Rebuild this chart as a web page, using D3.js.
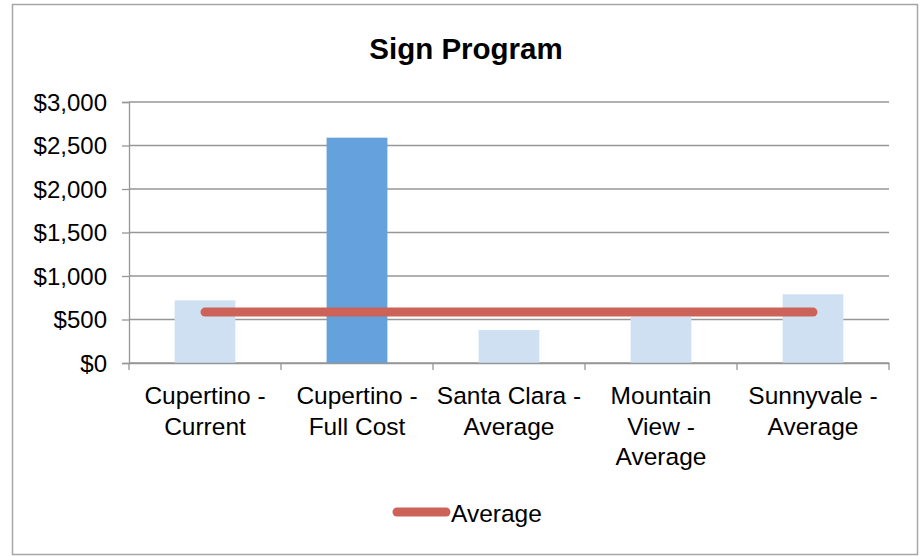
<!DOCTYPE html>
<html><head><meta charset="utf-8">
<script src="https://cdn.jsdelivr.net/npm/d3@7"></script>
<style>body{margin:0;background:#fff}svg{display:block}text{font-family:"Liberation Sans",Arial,sans-serif;fill:#000}</style>
</head><body>
<script>
const categories = [["Cupertino -","Current"],["Cupertino -","Full Cost"],["Santa Clara -","Average"],["Mountain","View -","Average"],["Sunnyvale -","Average"]];
const values = [720, 2590, 380, 530, 790];
const highlight = [false, true, false, false, false];
const averageValue = 585;
const yTicks = [0, 500, 1000, 1500, 2000, 2500, 3000];
const title = "Sign Program";
const legendLabel = "Average";

const W = 920, H = 556;
const svg = d3.select("body").append("svg").attr("width", W).attr("height", H);
svg.append("rect").attr("x", 12.5).attr("y", 4.5).attr("width", 905).attr("height", 550)
  .attr("fill", "#fff").attr("stroke", "#A6A6A6").attr("stroke-width", 1.5);

const pL = 129, pR = 889, pT = 102, pB = 363;
const idx = categories.map((d, i) => i);
const x = d3.scaleBand().domain(idx).range([pL, pR]).padding(0);
const y = d3.scaleLinear().domain([0, 3000]).range([pB, pT]);

// gridlines
svg.append("g").selectAll("line").data(yTicks).join("line")
  .attr("x1", pL).attr("x2", pR)
  .attr("y1", d => y(d)).attr("y2", d => y(d))
  .attr("stroke", "#969696").attr("stroke-width", 1.3);

// y axis
const yAxis = svg.append("g").attr("transform", `translate(${pL},0)`)
  .call(d3.axisLeft(y).tickValues(yTicks).tickSize(7).tickPadding(15).tickFormat(d => "$" + d3.format(",")(d)));
yAxis.select(".domain").attr("stroke", "#969696").attr("stroke-width", 1.3);
yAxis.selectAll(".tick line").attr("stroke", "#969696").attr("stroke-width", 1.3);
yAxis.selectAll("text").attr("font-size", 24).attr("dy", "0.35em").style("font-family", '"Liberation Sans",Arial,sans-serif').attr("fill", "#000");

// bars
const bw = x.step() / 2.5;
svg.append("g").selectAll("rect").data(values).join("rect")
  .attr("x", (d, i) => x(i) + x.step() / 2 - bw / 2)
  .attr("width", bw)
  .attr("y", d => y(d))
  .attr("height", d => y(0) - y(d))
  .attr("fill", (d, i) => highlight[i] ? "#65A1DD" : "#CFE0F2");

// x axis
const xAxis = svg.append("g").attr("transform", `translate(0,${pB})`)
  .call(d3.axisBottom(x).tickSize(0).tickFormat(""));
xAxis.select(".domain").attr("stroke", "#969696").attr("stroke-width", 1.3);
const bounds = d3.range(categories.length + 1).map(i => pL + i * x.step());
svg.append("g").selectAll("line").data(bounds).join("line")
  .attr("x1", d => d).attr("x2", d => d).attr("y1", pB).attr("y2", pB + 7)
  .attr("stroke", "#969696").attr("stroke-width", 1.3);

const lbl = svg.append("g").selectAll("text").data(categories).join("text")
  .attr("x", (d, i) => x(i) + x.step() / 2)
  .attr("y", 404).attr("text-anchor", "middle").attr("font-size", 24.5);
lbl.selectAll("tspan").data(d => d).join("tspan")
  .attr("x", function() { return d3.select(this.parentNode).attr("x"); })
  .attr("dy", (d, i) => i === 0 ? 0 : 30.5).text(d => d);

// average line
const c0 = x(0) + x.step() / 2, c1 = x(categories.length - 1) + x.step() / 2;
svg.append("path")
  .attr("d", d3.line()([[c0, y(averageValue)], [c1, y(averageValue)]]))
  .attr("stroke", "#CD6259").attr("stroke-width", 9).attr("stroke-linecap", "round").attr("fill", "none");

// title
svg.append("text").attr("x", 466).attr("y", 59).attr("text-anchor", "middle")
  .attr("font-size", 29.5).attr("font-weight", "bold").text(title);

// legend
svg.append("line").attr("x1", 397).attr("x2", 446).attr("y1", 512).attr("y2", 512)
  .attr("stroke", "#CD6259").attr("stroke-width", 9).attr("stroke-linecap", "round");
svg.append("text").attr("x", 451).attr("y", 522).attr("font-size", 24.5).text(legendLabel);
</script>
</body></html>
